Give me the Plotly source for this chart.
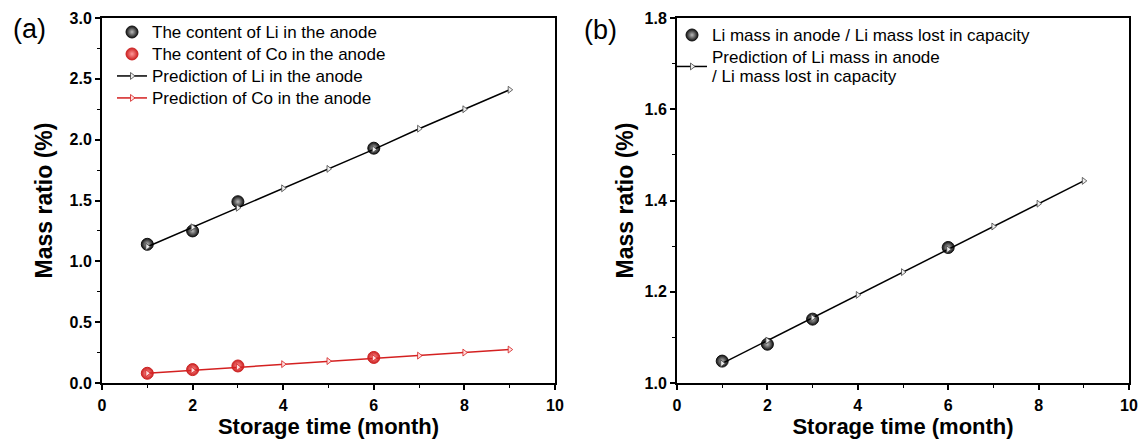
import plotly.graph_objects as go

months_data = [1, 2, 3, 6]
li_content = [1.14, 1.25, 1.49, 1.93]
co_content = [0.08, 0.11, 0.14, 0.21]

months_pred = [1, 2, 3, 4, 5, 6, 7, 8, 9]
li_pred = [1.12, 1.28, 1.44, 1.60, 1.76, 1.92, 2.09, 2.25, 2.41]
co_pred = [0.08, 0.105, 0.13, 0.155, 0.18, 0.205, 0.225, 0.25, 0.275]

ratio_data = [1.048, 1.085, 1.14, 1.297]
ratio_pred = [1.043, 1.093, 1.143, 1.193, 1.243, 1.293, 1.343, 1.393, 1.443]

FONT = "Liberation Sans, Arial, sans-serif"
PLOT_H = 441 - 18 - 58


def big(label):
    return "<br>".join("<span style='font-size:17px'>%s</span>" % part
                       for part in label.split("\n"))


fig = go.Figure()


def sphere(color, grad):
    return dict(symbol="circle", size=12, color=color,
                gradient=dict(type="radial", color=grad),
                line=dict(color=color, width=1))


def tri():
    return dict(symbol="triangle-right", size=6, color="#eeeeee",
                line=dict(color="#444", width=0.8))


fig.add_trace(go.Scatter(x=months_data, y=li_content, mode="markers",
                         name=big("The content of Li in the anode"),
                         marker=sphere("#111111", "#bbbbbb"),
                         xaxis="x", yaxis="y", legend="legend"))
fig.add_trace(go.Scatter(x=months_data, y=co_content, mode="markers",
                         name=big("The content of Co in the anode"),
                         marker=sphere("#cc2222", "#ff9999"),
                         xaxis="x", yaxis="y", legend="legend"))
fig.add_trace(go.Scatter(x=months_pred, y=li_pred, mode="lines+markers",
                         name=big("Prediction of Li in the anode"),
                         line=dict(color="black", width=1.5), marker=tri(),
                         xaxis="x", yaxis="y", legend="legend"))
fig.add_trace(go.Scatter(x=months_pred, y=co_pred, mode="lines+markers",
                         name=big("Prediction of Co in the anode"),
                         line=dict(color="#d42020", width=1.5),
                         marker=dict(symbol="triangle-right", size=6, color="#ffdddd",
                                     line=dict(color="#d42020", width=0.8)),
                         xaxis="x", yaxis="y", legend="legend"))

fig.add_trace(go.Scatter(x=months_data, y=ratio_data, mode="markers",
                         name=big("Li mass in anode / Li mass lost in capacity"),
                         marker=sphere("#111111", "#bbbbbb"),
                         xaxis="x2", yaxis="y2", legend="legend2"))
fig.add_trace(go.Scatter(x=months_pred, y=ratio_pred, mode="lines+markers",
                         name=big("Prediction of Li mass in anode\n/ Li mass lost in capacity"),
                         line=dict(color="black", width=1.5), marker=tri(),
                         xaxis="x2", yaxis="y2", legend="legend2"))

axis_common = dict(showline=True, linecolor="black", linewidth=2, mirror=True,
                   ticks="outside", ticklen=5, tickwidth=1.5, tickcolor="black",
                   showgrid=False, zeroline=False, automargin=False,
                   tickfont=dict(family=FONT, size=16, color="black", weight="bold"),
                   minor=dict(ticks="outside", ticklen=3, tickwidth=1.2, tickcolor="black"))

xt = dict(text="Storage time (month)", font=dict(family=FONT, size=22, color="black", weight="bold"), standoff=3)
yt_font = dict(family=FONT, size=23, color="black", weight="bold")

fig.update_layout(
    width=1141, height=441,
    margin=dict(l=0, r=0, t=18, b=58),
    paper_bgcolor="white", plot_bgcolor="white",
    font=dict(family=FONT, color="black"),
    xaxis=dict(axis_common, domain=[102/1141, 555/1141], range=[0, 10], dtick=2,
               minor=dict(axis_common["minor"], dtick=1), title=xt, anchor="y",
               ticklabelstandoff=2),
    yaxis=dict(axis_common, domain=[0, 1], range=[0, 3], dtick=0.5, tickformat=".1f",
               minor=dict(axis_common["minor"], dtick=0.25),
               title=dict(text="Mass ratio (%)", font=yt_font, standoff=10), anchor="x"),
    xaxis2=dict(axis_common, domain=[677/1141, 1129/1141], range=[0, 10], dtick=2,
                minor=dict(axis_common["minor"], dtick=1), title=xt, anchor="y2",
                ticklabelstandoff=2),
    yaxis2=dict(axis_common, domain=[0, 1], range=[1.0, 1.8], dtick=0.2, tickformat=".1f",
                minor=dict(axis_common["minor"], dtick=0.1),
                title=dict(text="Mass ratio (%)", font=yt_font, standoff=4), anchor="x2"),
    legend=dict(x=112/1141, y=1 + 2/PLOT_H, xanchor="left", yanchor="top",
                bgcolor="rgba(0,0,0,0)",
                font=dict(family=FONT, size=14.6, color="black"), tracegroupgap=0,
                itemwidth=30),
    legend2=dict(x=672/1141, y=1 - 1/PLOT_H, xanchor="left", yanchor="top",
                 bgcolor="rgba(0,0,0,0)",
                 font=dict(family=FONT, size=14.6, color="black"), tracegroupgap=0,
                 itemwidth=30),
    annotations=[
        dict(text="(a)", x=29/1141, y=1 + (18 - 29) / PLOT_H, xref="paper", yref="paper",
             showarrow=False, xanchor="center", yanchor="middle",
             font=dict(family=FONT, size=27, color="black")),
        dict(text="(b)", x=600/1141, y=1 + (18 - 30) / PLOT_H, xref="paper", yref="paper",
             showarrow=False, xanchor="center", yanchor="middle",
             font=dict(family=FONT, size=27, color="black")),
    ],
)

fig.write_html("out.html", post_script="document.body.style.margin='0';",
               config={"displayModeBar": False})
